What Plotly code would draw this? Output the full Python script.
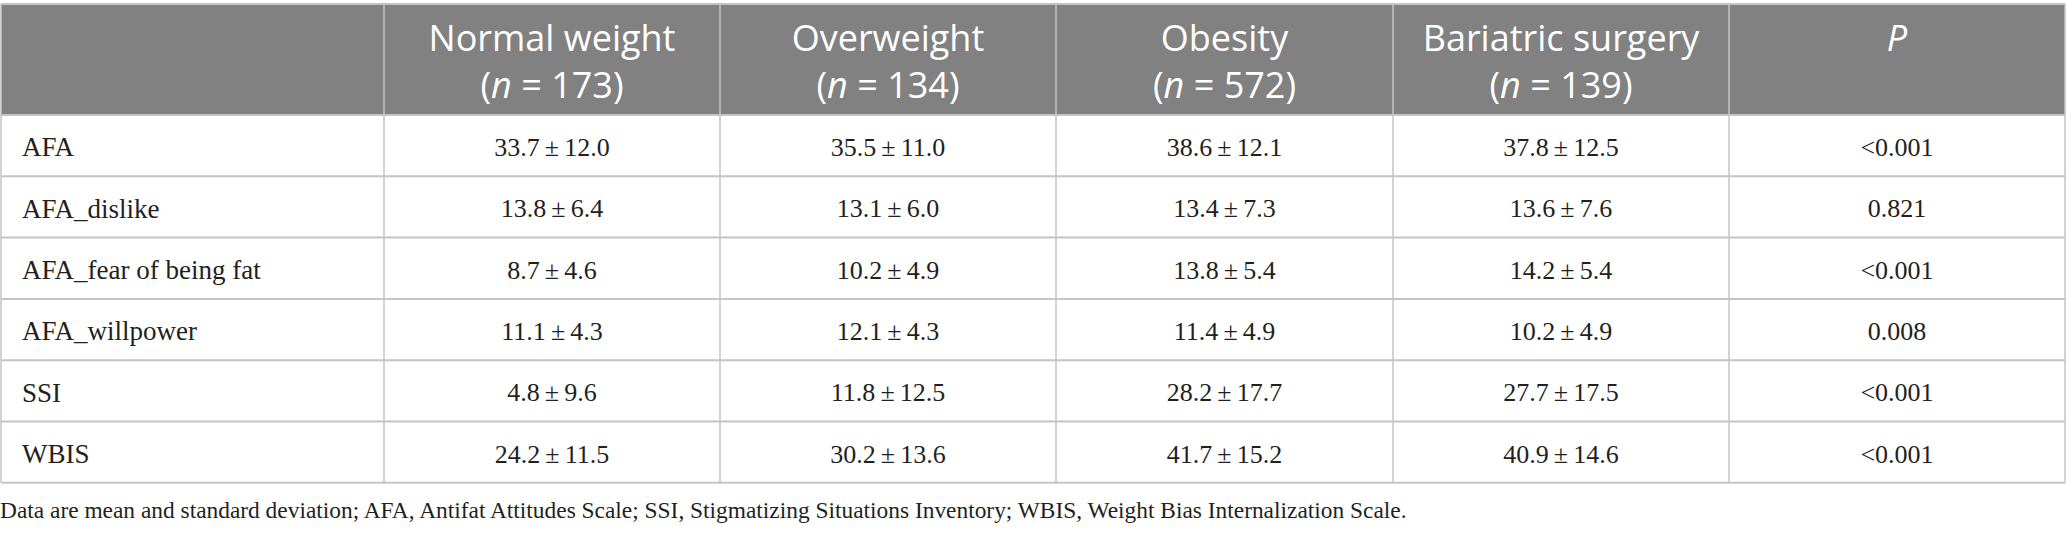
"""Table: attitudes by weight group."""

import numpy as np
import plotly.graph_objects as go

# data
groups = ["Normal weight", "Overweight", "Obesity", "Bariatric surgery"]
group_n = [173, 134, 572, 139]
measures = ["AFA", "AFA_dislike", "AFA_fear of being fat", "AFA_willpower", "SSI", "WBIS"]
normal_mean = [33.7, 13.8, 8.7, 11.1, 4.8, 24.2]
normal_sd = [12.0, 6.4, 4.6, 4.3, 9.6, 11.5]
over_mean = [35.5, 13.1, 10.2, 12.1, 11.8, 30.2]
over_sd = [11.0, 6.0, 4.9, 4.3, 12.5, 13.6]
obese_mean = [38.6, 13.4, 13.8, 11.4, 28.2, 41.7]
obese_sd = [12.1, 7.3, 5.4, 4.9, 17.7, 15.2]
bari_mean = [37.8, 13.6, 14.2, 10.2, 27.7, 40.9]
bari_sd = [12.5, 7.6, 5.4, 4.9, 17.5, 14.6]
p_values = ["<0.001", "0.821", "<0.001", "0.008", "<0.001", "<0.001"]
footnote = ("Data are mean and standard deviation; AFA, Antifat Attitudes Scale; "
            "SSI, Stigmatizing Situations Inventory; WBIS, Weight Bias Internalization Scale.")

# layout (pixels)
W, H = 2067, 535
COL_W = [383, 336, 336, 337, 336, 336]
HEAD_H = 111
ROW_H = 61.3
TEXT_DROP = 4  # serif text sits a little below the row centre
LINE = "#c4c4c4"
HEAD_FILL = "#808180"
INK = "#231f20"
SERIF = "Liberation Serif"
SANS = "Open Sans"


def msd(means, sds):
    return [f"{m:.1f}\u2009±\u2009{s:.1f}" for m, s in zip(means, sds)]


# the P header sits on the first header line, so give it an empty second line
header = [f"{g}<br>(<i>n</i> = {n})" for g, n in zip(groups, group_n)] + ["<i>P</i><br>\u00a0"]
value_cols = [
    msd(normal_mean, normal_sd),
    msd(over_mean, over_sd),
    msd(obese_mean, obese_sd),
    msd(bari_mean, bari_sd),
    p_values,
]

edges = np.concatenate([[0], np.cumsum(COL_W)])
centers = (edges[:-1] + edges[1:]) / 2
n_rows = len(measures)
row_edges = HEAD_H + ROW_H * np.arange(n_rows + 1)
row_mid = HEAD_H + ROW_H * (np.arange(n_rows) + 0.5) + TEXT_DROP
table_w = edges[-1]
table_h = row_edges[-1]

fig = go.Figure()

# header text
fig.add_trace(go.Scatter(
    x=centers[1:], y=[HEAD_H / 2 + 6] * len(header), text=header,
    mode="text", textposition="middle center",
    textfont=dict(family=SANS, size=36, color="white"),
    hoverinfo="skip", showlegend=False,
))
# row labels
fig.add_trace(go.Scatter(
    x=[21] * n_rows, y=row_mid, text=measures,
    mode="text", textposition="middle right",
    textfont=dict(family=SERIF, size=27, color=INK),
    hoverinfo="skip", showlegend=False,
))
# values
for cx, col in zip(centers[1:], value_cols):
    fig.add_trace(go.Scatter(
        x=[cx] * n_rows, y=row_mid, text=col,
        mode="text", textposition="middle center",
        textfont=dict(family=SERIF, size=26, color=INK),
        hoverinfo="skip", showlegend=False,
    ))

# header background and grid
fig.add_shape(type="rect", x0=0, x1=table_w, y0=0, y1=HEAD_H,
              fillcolor=HEAD_FILL, line_width=0, layer="below")
for y in np.concatenate([[0], row_edges]):
    fig.add_shape(type="line", x0=0, x1=table_w, y0=y, y1=y,
                  line=dict(color=LINE, width=2), layer="below")
for x in edges:
    fig.add_shape(type="line", x0=x, x1=x, y0=0, y1=table_h,
                  line=dict(color=LINE, width=1.5), layer="below")

fig.add_annotation(
    text=footnote, x=0, y=table_h + 27, xref="x", yref="y",
    xanchor="left", yanchor="middle", showarrow=False, xshift=-3,
    font=dict(family=SERIF, size=23.4, color=INK),
)

fig.update_xaxes(range=[-1, W - 1], visible=False, fixedrange=True)
fig.update_yaxes(range=[H - 4, -4], visible=False, fixedrange=True)
fig.update_layout(
    width=W, height=H,
    margin=dict(l=0, r=0, t=0, b=0),
    paper_bgcolor="white", plot_bgcolor="white",
)

fig.write_html(
    "out.html",
    config={"displayModeBar": False, "staticPlot": True},
    post_script="document.body.style.margin = '0';",
)
